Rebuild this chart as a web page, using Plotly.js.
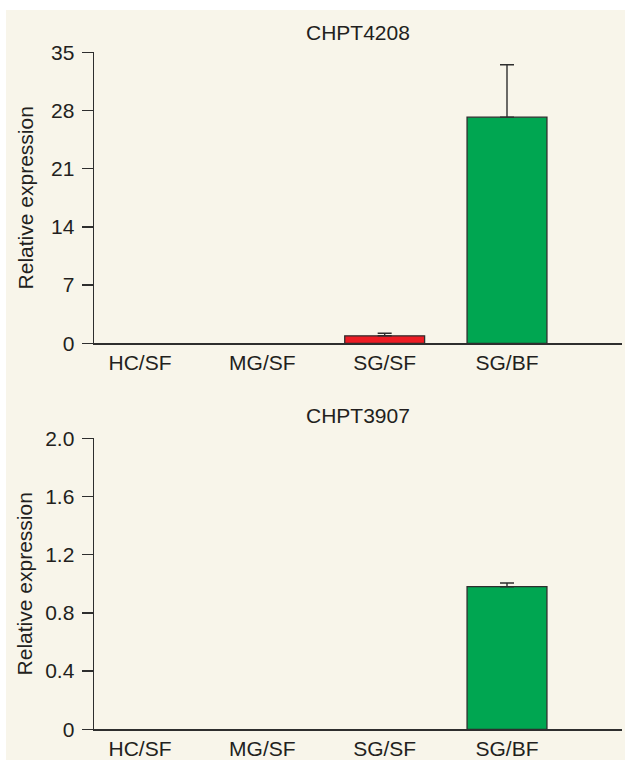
<!DOCTYPE html>
<html>
<head>
<meta charset="utf-8">
<script src="https://cdn.plot.ly/plotly-3.0.1.min.js"></script>
<style>
html,body{margin:0;padding:0;background:#ffffff;}
#chart{width:625px;height:760px;}
</style>
</head>
<body>
<div id="chart"></div>
<script>
// ---- data ----
const categories = ["HC/SF", "MG/SF", "SG/SF", "SG/BF"];
const chpt4208Values = [0, 0, 0.9, 27.2];
const chpt4208Errors = [0, 0, 0.3, 6.3];
const chpt3907Values = [0, 0, 0, 0.98];
const chpt3907Errors = [0, 0, 0, 0.025];
const topTickVals = [0, 7, 14, 21, 28, 35];
const topTickText = ["0", "7", "14", "21", "28", "35"];
const bottomTickVals = [0, 0.4, 0.8, 1.2, 1.6, 2.0];
const bottomTickText = ["0", "0.4", "0.8", "1.2", "1.6", "2.0"];
const panelTitles = ["CHPT4208", "CHPT3907"];
const yLabel = "Relative expression";

// ---- styles ----
const RED = "#ed1c24", GREEN = "#00a651";
const barColors = [GREEN, GREEN, RED, GREEN];
const INK = "#2e2e2e";
const TXT = "#231f20";
const FONT = "Liberation Sans, Arial, Helvetica, sans-serif";
const FS = 21;
const W = 625, H = 760;
const zeros = categories.map(() => 0);

function barTrace(vals, errs, xa, ya) {
  return {
    type: "bar",
    x: categories,
    y: vals,
    xaxis: xa, yaxis: ya,
    marker: {color: barColors,
             line: {color: INK, width: vals.map(v => (v > 0 ? 1.3 : 0))}},
    error_y: {type: "data", symmetric: false,
              array: errs.map((e, i) => (vals[i] > 0 ? e : NaN)),
              arrayminus: vals.map(v => (v > 0 ? 0 : NaN)),
              color: INK, thickness: 1.4, width: 7},
    hoverinfo: "x+y",
    showlegend: false
  };
}

const xDom = [94 / W, 622 / W];
const topDom = [1 - 343.3 / H, 1 - 52.3 / H];
const botDom = [1 - 729.3 / H, 1 - 438.3 / H];

function xAxis(anchor) {
  return {
    type: "category", domain: xDom, anchor: anchor,
    range: [-0.376, 3.94],
    showline: true, linecolor: INK, linewidth: 1.4,
    ticks: "", showgrid: false, zeroline: false,
    tickfont: {family: FONT, size: FS, color: TXT},
    automargin: false, fixedrange: true
  };
}
function yAxis(anchor, dom, range, tv, tt, standoff) {
  return {
    domain: dom, anchor: anchor, range: range,
    tickmode: "array", tickvals: tv, ticktext: tt,
    ticks: "outside", ticklen: 11, tickwidth: 1.4, tickcolor: INK,
    ticklabelstandoff: 3,
    showline: true, linecolor: INK, linewidth: 1.4,
    showgrid: false, zeroline: false,
    tickfont: {family: FONT, size: FS, color: TXT},
    title: {text: yLabel, font: {family: FONT, size: FS, color: TXT}, standoff: standoff},
    automargin: false, fixedrange: true
  };
}

const data = [
  barTrace(chpt4208Values, chpt4208Errors, "x", "y"),
  barTrace(chpt3907Values, chpt3907Errors, "x2", "y2")
];

const layout = {
  width: W, height: H,
  margin: {l: 0, r: 0, t: 0, b: 0},
  paper_bgcolor: "#ffffff",
  plot_bgcolor: "rgba(0,0,0,0)",
  font: {family: FONT, size: FS, color: TXT},
  bargap: 0.347,
  xaxis: xAxis("y"),
  yaxis: yAxis("x", topDom, [0, 35], topTickVals, topTickText, 11),
  xaxis2: xAxis("y2"),
  yaxis2: yAxis("x2", botDom, [0, 2.0], bottomTickVals, bottomTickText, 7),
  shapes: [{
    type: "rect", xref: "paper", yref: "paper",
    x0: 6 / W, x1: 1, y0: 0, y1: 1 - 10 / H,
    fillcolor: "#f8f5ea", line: {width: 0}, layer: "below"
  }],
  annotations: [
    {text: panelTitles[0], xref: "paper", yref: "paper",
     x: (xDom[0] + xDom[1]) / 2, y: 1 - 33 / H, xanchor: "center", yanchor: "middle",
     showarrow: false, font: {family: FONT, size: FS, color: TXT}},
    {text: panelTitles[1], xref: "paper", yref: "paper",
     x: (xDom[0] + xDom[1]) / 2, y: 1 - 415 / H, xanchor: "center", yanchor: "middle",
     showarrow: false, font: {family: FONT, size: FS, color: TXT}}
  ]
};

Plotly.newPlot("chart", data, layout, {displayModeBar: false, staticPlot: true});
</script>
</body>
</html>
